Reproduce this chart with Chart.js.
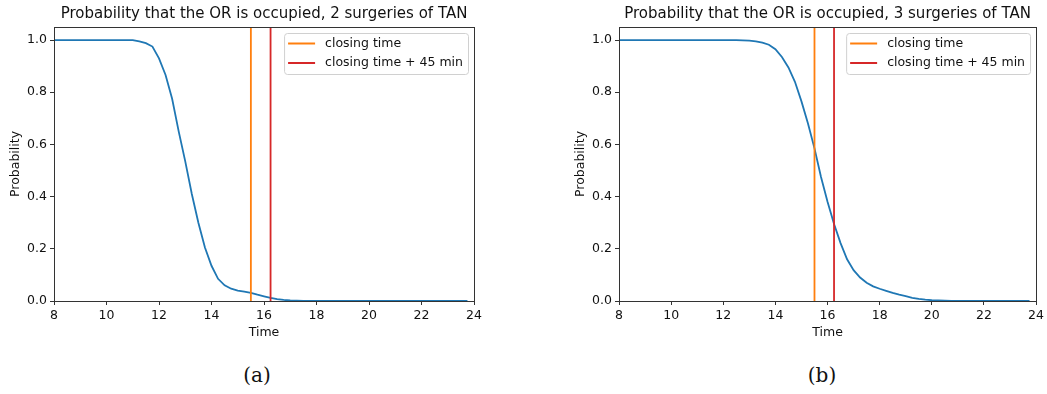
<!DOCTYPE html>
<html>
<head>
<meta charset="utf-8">
<script src="https://cdn.jsdelivr.net/npm/chart.js@4/dist/chart.umd.min.js"></script>
<style>
  body{ margin:0; background:#fff; width:1047px; height:394px; overflow:hidden; position:relative; }
  canvas{ position:absolute; top:0; }
  #cA{ left:0; }
  #cB{ left:565px; }
  .cap{ position:absolute; top:363px; font-family:"DejaVu Serif", serif; font-size:20px; color:#111; width:60px; text-align:center; }
</style>
</head>
<body>
<canvas id="cA" width="490" height="345"></canvas>
<canvas id="cB" width="482" height="345"></canvas>
<div class="cap" style="left:227px">(a)</div>
<div class="cap" style="left:792px">(b)</div>
<script>
// values
const timesA = [8, 11, 11.25, 11.5, 11.75, 12, 12.25, 12.5, 12.75, 13, 13.25, 13.5, 13.75, 14, 14.25, 14.5, 14.75, 15, 15.25, 15.5, 15.75, 16, 16.25, 16.5, 16.75, 17, 17.25, 17.5, 23.75];
const probA  = [1, 1, 0.995, 0.988, 0.975, 0.93, 0.866, 0.775, 0.65, 0.535, 0.41, 0.30, 0.205, 0.135, 0.085, 0.06, 0.047, 0.04, 0.036, 0.031, 0.024, 0.018, 0.012, 0.007, 0.004, 0.002, 0.001, 0, 0];

const timesB = [8, 12.5, 12.75, 13, 13.25, 13.5, 13.75, 14, 14.25, 14.5, 14.75, 15, 15.25, 15.5, 15.75, 16, 16.25, 16.5, 16.75, 17, 17.25, 17.5, 17.75, 18, 18.25, 18.5, 18.75, 19, 19.25, 19.5, 19.75, 20, 20.25, 20.5, 20.75, 23.75];
const probB  = [1, 1, 0.999, 0.998, 0.995, 0.99, 0.982, 0.965, 0.935, 0.895, 0.84, 0.765, 0.68, 0.585, 0.475, 0.38, 0.295, 0.222, 0.16, 0.118, 0.09, 0.07, 0.056, 0.047, 0.039, 0.031, 0.024, 0.019, 0.012, 0.008, 0.005, 0.003, 0.002, 0.001, 0, 0];

const closingTime = 15.5;
const closingLate = 16.25;
const lineLabels = ['closing time', 'closing time + 45 min'];
const titles = ['Probability that the OR is occupied, 2 surgeries of TAN',
                'Probability that the OR is occupied, 3 surgeries of TAN'];
const xTicks = [8, 10, 12, 14, 16, 18, 20, 22, 24];
const yTicks = [0, 0.2, 0.4, 0.6, 0.8, 1.0];

Chart.defaults.font.family = '"DejaVu Sans", sans-serif';
Chart.defaults.font.size = 12.5;
Chart.defaults.color = '#111';

const BLUE = '#1f77b4', ORANGE = '#ff7f0e', RED = '#d62728';

// frame, title and matplotlib-like legend
const mplPlugin = {
  id: 'mpl',
  afterDatasetsDraw(chart){
    const {ctx, chartArea:a} = chart;
    ctx.save();
    ctx.strokeStyle = '#333'; ctx.lineWidth = 1;
    ctx.strokeRect(Math.round(a.left)+0.5, Math.round(a.top)+0.5, Math.round(a.right-a.left), Math.round(a.bottom-a.top));
    // title
    ctx.fillStyle = '#111';
    ctx.font = '15px "DejaVu Sans"';
    ctx.textAlign = 'center'; ctx.textBaseline = 'middle';
    ctx.fillText(chart.options.plugins.mpl.title, (a.left+a.right)/2, 14);
    // legend
    const items = chart.data.datasets.filter(d => d.label);
    ctx.font = '12.5px "DejaVu Sans"';
    const tw = Math.max(...items.map(d => ctx.measureText(d.label).width));
    const w = 41 + tw + 5, h = 41;
    const x0 = a.right - 6 - w, y0 = a.top + 6;
    ctx.beginPath();
    ctx.roundRect(x0+0.5, y0+0.5, w, h, 3);
    ctx.fillStyle = 'rgba(255,255,255,0.8)'; ctx.fill();
    ctx.strokeStyle = '#d0d0d0'; ctx.stroke();
    items.forEach((d,i)=>{
      const yy = y0 + 10.5 + i*19.5;
      ctx.strokeStyle = d.borderColor; ctx.lineWidth = 2;
      ctx.beginPath(); ctx.moveTo(x0+4, yy); ctx.lineTo(x0+31, yy); ctx.stroke();
      ctx.fillStyle = '#111'; ctx.textAlign = 'left';
      ctx.fillText(d.label, x0+41, yy);
    });
    ctx.restore();
  }
};

function makeChart(id, times, probs, title, padRight){
  const curve = times.map((t,i)=>({x:t, y:probs[i]}));
  return new Chart(document.getElementById(id), {
    type: 'line',
    data: {
      datasets: [
        { data: curve, borderColor: BLUE, borderWidth: 1.8, pointRadius: 0, tension: 0, order: 2 },
        { label: lineLabels[0], data: [{x:closingTime,y:0},{x:closingTime,y:1.05}], borderColor: ORANGE, borderWidth: 1.8, pointRadius: 0, order: 1 },
        { label: lineLabels[1], data: [{x:closingLate,y:0},{x:closingLate,y:1.05}], borderColor: RED, borderWidth: 1.8, pointRadius: 0, order: 0 }
      ]
    },
    options: {
      responsive: false,
      animation: false,
      layout: { padding: { left: 0, right: padRight, top: 27, bottom: 0 } },
      plugins: { legend: { display: false }, tooltip: { enabled: false }, mpl: { title } },
      scales: {
        x: {
          type: 'linear', min: 8, max: 24,
          afterBuildTicks: s => { s.ticks = xTicks.map(v => ({value: v})); },
          afterFit: s => { s.height = 44; },
          ticks: { padding: 3, color: '#111', maxRotation: 0, callback: v => String(v) },
          grid: { display: true, drawOnChartArea: false, drawTicks: true, tickLength: 4, color: '#333' },
          border: { display: true, color: '#333' },
          title: { display: true, text: 'Time', color: '#111', padding: { top: 0, bottom: 5 } }
        },
        y: {
          type: 'linear', min: 0, max: 1.05,
          afterBuildTicks: s => { s.ticks = yTicks.map(v => ({value: v})); },
          afterFit: s => { s.width = 54; },
          ticks: { padding: 3, color: '#111', callback: v => v.toFixed(1) },
          grid: { display: true, drawOnChartArea: false, drawTicks: true, tickLength: 4, color: '#333' },
          border: { display: true, color: '#333' },
          title: { display: true, text: 'Probability', color: '#111', padding: { top: 8, bottom: 0 } }
        }
      }
    },
    plugins: [mplPlugin]
  });
}

makeChart('cA', timesA, probA, titles[0], 16);
makeChart('cB', timesB, probB, titles[1], 8);
</script>
</body>
</html>
